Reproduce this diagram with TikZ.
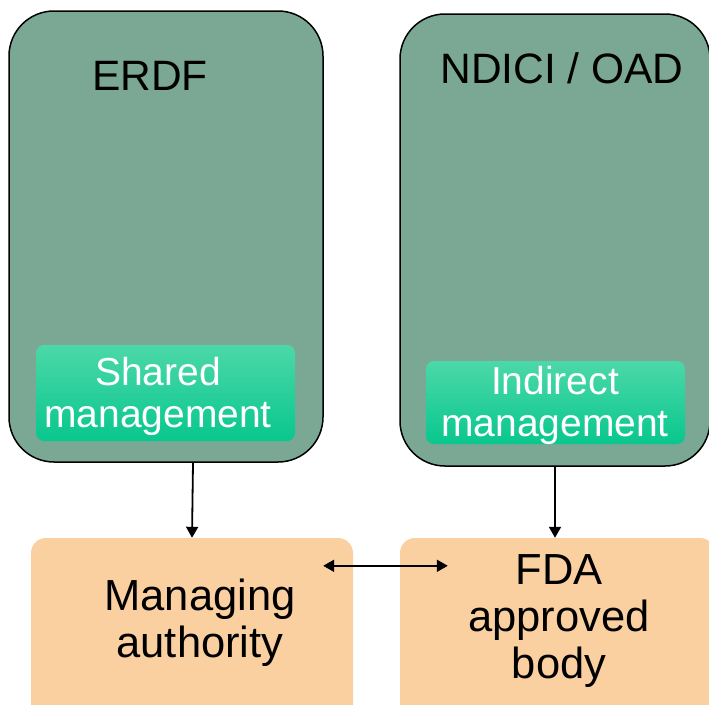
\documentclass[tikz,border=0pt]{standalone}
\usepackage{fontspec}
\setmainfont{Liberation Sans}
\usetikzlibrary{arrows.meta,positioning}
\definecolor{fundgreen}{RGB}{123,168,148}
\definecolor{mgmttop}{RGB}{76,216,168}
\definecolor{mgmtbottom}{RGB}{8,199,141}
\definecolor{bodypeach}{RGB}{251,208,161}

\begin{document}
\begin{tikzpicture}[x=1pt,y=-1pt,>={Triangle[length=11pt,width=12pt]},
    fund/.style={draw=black,line width=1.5pt,fill=fundgreen,rounded corners=45pt},
    mgmt/.style={top color=mgmttop,bottom color=mgmtbottom,draw=none,rounded corners=8pt,
                 minimum width=259pt},
    mgmttext/.style={text=white,align=center,font=\fontsize{39}{42}\selectfont,inner sep=0pt},
    actor/.style={fill=bodypeach,draw=none,rounded corners=15pt,minimum height=190pt},
    title/.style={font=\fontsize{42.5}{47}\selectfont,anchor=base,inner sep=0pt},
    actortext/.style={font=\fontsize{43.5}{47}\selectfont,align=center,inner sep=0pt},
    flow/.style={->,line width=1.8pt}]
  \useasboundingbox (0,0) rectangle (709,704);
  \clip (0,0) rectangle (709,704);

  % funds
  \node[fund,minimum width=314pt,minimum height=451pt] (erdf)  at (166,236.5) {};
  \node[fund,minimum width=310pt,minimum height=452pt] (ndici) at (555,240) {};
  \node[title] (erdftitle)  at (150,90) {ERDF};
  \node[title] (ndicititle) at (562,83) {NDICI / OAD};

  % management modes
  \node[mgmt,minimum height=96pt] (shared)   at (165.5,393)   {};
  \node[mgmt,minimum height=83pt] (indirect) at (555.5,402.5) {};
  \node[mgmttext] (sharedtext)   at (158,396.5) {Shared\\management};
  \node[mgmttext] (indirecttext) at (555,405)   {Indirect\\management};

  % bodies
  \node[actor,minimum width=322pt] (ma)  at (192,633)   {};
  \node[actor,minimum width=315pt] (fda) at (557.5,633) {};
  \node[actortext] (matext)  at (200,623)   {Managing\\authority};
  \node[actortext] (fdatext) at (559,621) {FDA\\approved\\body};

  \draw[flow] ([xshift=27pt]erdf.south) -- (ma.north);
  \draw[flow] (ndici.south) -- ([xshift=-2.5pt]fda.north);
  \draw[flow,<->] ([shift={(-30,28)}]ma.north east) -- ([shift={(48,28)}]fda.north west);
\end{tikzpicture}
\end{document}
